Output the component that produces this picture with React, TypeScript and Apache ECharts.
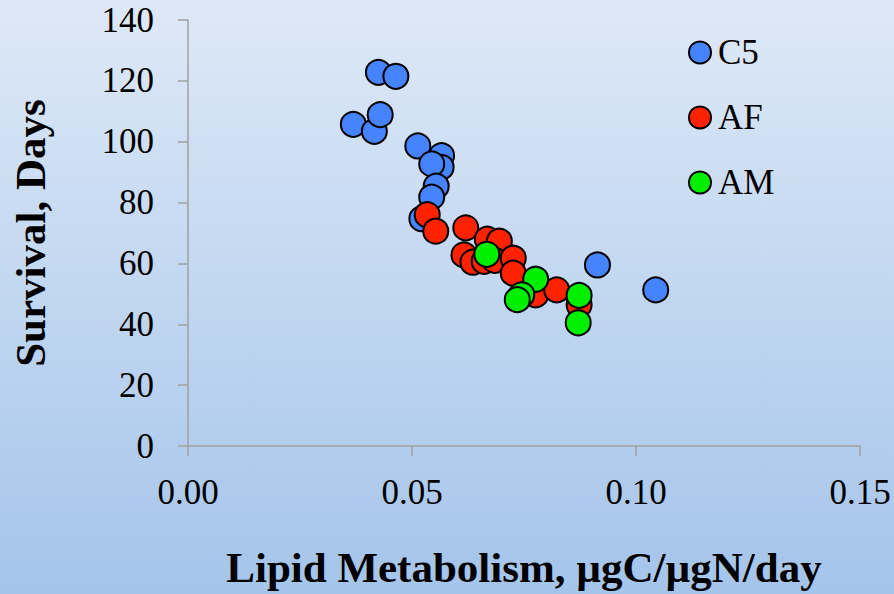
import React, { useEffect, useRef } from "react";
import * as echarts from "echarts";

const seriesNames = ["C5", "AF", "AM"];
const seriesColors = ["#4684ff", "#ff2200", "#00ee00"];

const c5X = [0.0425, 0.0464, 0.0369, 0.0416, 0.0429, 0.0513, 0.0566, 0.0565, 0.0544, 0.0554, 0.0544, 0.0522, 0.0914, 0.1044];
const c5Y = [122.8, 121.5, 105.7, 103.4, 108.9, 98.6, 95.4, 91.6, 92.7, 85.4, 81.8, 74.7, 59.5, 51.3];

const afX = [0.0534, 0.0553, 0.0620, 0.0668, 0.0695, 0.0616, 0.0636, 0.0661, 0.0685, 0.0726, 0.0726, 0.0776, 0.0823, 0.0873];
const afY = [76.0, 70.6, 71.7, 68.0, 67.3, 62.8, 60.4, 60.7, 61.0, 61.7, 56.8, 49.7, 51.3, 46.4];

const amX = [0.0667, 0.0776, 0.0745, 0.0735, 0.0873, 0.0871];
const amY = [63.0, 54.8, 49.7, 48.1, 49.5, 40.5];

const xTicks = [0, 0.05, 0.1, 0.15];
const yTicks = [0, 20, 40, 60, 80, 100, 120, 140];

const xTitle = "Lipid Metabolism, µgC/µgN/day";
const yTitle = "Survival, Days";

const FONT = "'Liberation Serif', 'Times New Roman', serif";

export default function App() {
  const ref = useRef<HTMLDivElement>(null);
  useEffect(() => {
    document.body.style.margin = "0";
    if (!ref.current) return;
    const chart = echarts.init(ref.current, null, { renderer: "svg" });
    const pairs = [
      c5X.map((x, i) => [x, c5Y[i]]),
      afX.map((x, i) => [x, afY[i]]),
      amX.map((x, i) => [x, amY[i]]),
    ];
    chart.setOption({
      animation: false,
      backgroundColor: new echarts.graphic.LinearGradient(0, 0, 0, 1, [
        { offset: 0, color: "#dee9f7" },
        { offset: 1, color: "#a4c4ea" },
      ]),
      textStyle: { fontFamily: FONT },
      grid: { left: 188, right: 34, top: 20, bottom: 145 },
      legend: {
        orient: "vertical",
        left: 683,
        top: 30,
        itemGap: 30,
        itemWidth: 22,
        itemHeight: 22,
        icon: "circle",
        data: seriesNames,
        textStyle: { fontFamily: FONT, fontSize: 35, color: "#000", padding: [8, 0, 0, 2] },
      },
      xAxis: {
        type: "value",
        min: 0,
        max: 0.15,
        interval: 0.05,
        name: xTitle,
        nameLocation: "middle",
        nameGap: 100,
        nameTextStyle: { fontFamily: FONT, fontSize: 43, fontWeight: "bold", color: "#000" },
        axisLine: { show: true, lineStyle: { color: "#a0a0a0", width: 1.5 } },
        axisTick: { show: true, inside: false, length: 10, lineStyle: { color: "#a0a0a0", width: 1.5 } },
        splitLine: { show: false },
        axisLabel: {
          margin: 29,
          fontFamily: FONT,
          fontSize: 35,
          color: "#000",
          formatter: (v: number) => (xTicks.some((t) => Math.abs(t - v) < 1e-9) ? v.toFixed(2) : ""),
        },
      },
      yAxis: {
        type: "value",
        min: 0,
        max: 140,
        interval: 20,
        name: yTitle,
        nameLocation: "middle",
        nameGap: 136,
        nameRotate: 90,
        nameTextStyle: { fontFamily: FONT, fontSize: 43, fontWeight: "bold", color: "#000" },
        axisLine: { show: true, lineStyle: { color: "#a0a0a0", width: 1.5 } },
        axisTick: { show: true, inside: false, length: 10, lineStyle: { color: "#a0a0a0", width: 1.5 } },
        splitLine: { show: false },
        axisLabel: {
          margin: 34,
          fontFamily: FONT,
          fontSize: 35,
          color: "#000",
          formatter: (v: number) => (yTicks.includes(v) ? String(v) : ""),
        },
      },
      series: seriesNames.map((name, i) => ({
        name,
        type: "scatter",
        data: pairs[i],
        symbol: "circle",
        symbolSize: 25,
        itemStyle: { color: seriesColors[i], borderColor: "#000", borderWidth: 2, opacity: 1 },
        emphasis: { disabled: true },
        z: 2 + i,
      })),
    });
    return () => chart.dispose();
  }, []);
  return <div ref={ref} style={{ width: 894, height: 594 }} />;
}
